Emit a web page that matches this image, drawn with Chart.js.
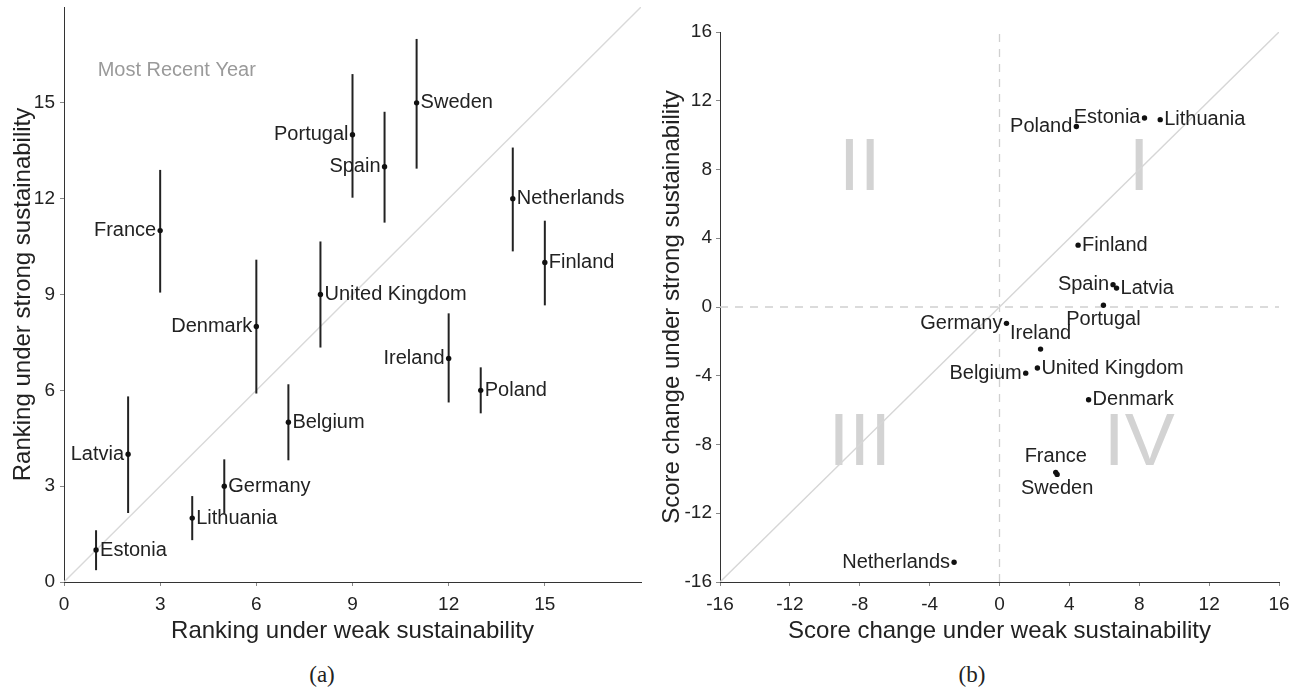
<!DOCTYPE html>
<html>
<head>
    <meta charset="utf-8" />
    <title>Ranking and score change under weak and strong sustainability</title>
    <script src="https://cdn.jsdelivr.net/npm/chart.js@4.4.1/dist/chart.umd.min.js"></script>

    <script>
        // (a) ranking, most recent year
        const countriesA = ['Estonia', 'Lithuania', 'Germany', 'Latvia', 'Belgium', 'Denmark', 'France', 'United Kingdom',
            'Ireland', 'Poland', 'Portugal', 'Spain', 'Sweden', 'Netherlands', 'Finland'];
        const weakRank = [1, 4, 5, 2, 7, 6, 3, 8, 12, 13, 9, 10, 11, 14, 15];
        const strongRank = [1, 2, 3, 4, 5, 8, 11, 9, 7, 6, 14, 13, 15, 12, 10];
        const strongLow = [0.37, 1.31, 2.15, 2.16, 3.81, 5.9, 9.06, 7.34, 5.62, 5.28, 12.03, 11.25, 12.94, 10.35, 8.66];
        const strongHigh = [1.62, 2.69, 3.84, 5.81, 6.19, 10.09, 12.9, 10.66, 8.41, 6.72, 15.9, 14.72, 17.0, 13.6, 11.31];
        const labelSideA = ['right', 'right', 'right', 'left', 'right', 'left', 'left', 'right',
            'left', 'right', 'left', 'left', 'right', 'right', 'right'];
        const ticksA = [0, 3, 6, 9, 12, 15];

        // (b) score change
        const countriesB = ['Poland', 'Estonia', 'Lithuania', 'Finland', 'Spain', 'Latvia', 'Portugal', 'Germany',
            'Ireland', 'United Kingdom', 'Belgium', 'Denmark', 'France', 'Sweden', 'Netherlands'];
        const weakChange = [4.4, 8.3, 9.2, 4.5, 6.5, 6.7, 5.95, 0.4, 2.35, 2.17, 1.5, 5.1, 3.22, 3.3, -2.6];
        const strongChange = [10.5, 11.0, 10.9, 3.6, 1.3, 1.1, 0.1, -0.95, -2.45, -3.55, -3.85, -5.4, -9.62, -9.74, -14.85];
        const labelSideB = ['left', 'left', 'right', 'right', 'left', 'right', 'below', 'left',
            'above', 'right', 'left', 'right', 'above', 'below', 'left'];
        const ticksB = [-16, -12, -8, -4, 0, 4, 8, 12, 16];
        const quadrants = ['I', 'II', 'III', 'IV'];
        const quadX = [8, -8, -8, 8];
        const quadY = [8, 8, -8, -8];

        const FONT = "'Liberation Sans', Arial, sans-serif";
        const INK = '#222';

        // nome dos paises ao lado dos pontos
        const countryLabels = {
            id: 'countryLabels',
            afterDatasetsDraw(chart, args, opts) {
                const meta = chart.getDatasetMeta(0);
                const ctx = chart.ctx;
                ctx.save();
                ctx.font = '20px ' + FONT;
                ctx.fillStyle = INK;
                ctx.textBaseline = 'middle';
                meta.data.forEach((pt, i) => {
                    let x = pt.x, y = pt.y;
                    const side = opts.sides[i];
                    if (side === 'left') { ctx.textAlign = 'right'; x -= 4; }
                    else if (side === 'right') { ctx.textAlign = 'left'; x += 4; }
                    else if (side === 'above') { ctx.textAlign = 'center'; y -= 16; }
                    else { ctx.textAlign = 'center'; y += 14; }
                    ctx.fillText(opts.names[i], x, y);
                });
                ctx.restore();
            }
        };

        // textos de fundo (quadrantes, subtitulo)
        const backText = {
            id: 'backText',
            beforeDatasetsDraw(chart, args, opts) {
                const ctx = chart.ctx;
                const sx = chart.scales.x, sy = chart.scales.y;
                ctx.save();
                ctx.textBaseline = 'middle';
                opts.items.forEach(it => {
                    ctx.font = it.size + 'px ' + FONT;
                    ctx.fillStyle = it.color;
                    ctx.textAlign = it.align;
                    ctx.fillText(it.text, sx.getPixelForValue(it.x), sy.getPixelForValue(it.y));
                });
                ctx.restore();
            }
        };

        function makeAxis(tickVals, min, max, title, size, tickPad, titlePad) {
            return {
                type: 'linear',
                min: min,
                max: max,
                afterBuildTicks: s => { s.ticks = tickVals.map(v => ({ value: v })); },
                afterFit: s => {
                    if (s.isHorizontal()) s.height = size; else s.width = size;
                    s.paddingTop = 0; s.paddingBottom = 0; s.paddingLeft = 0; s.paddingRight = 0;
                },
                grid: { drawOnChartArea: false, drawTicks: true, tickLength: 4, color: '#888' },
                border: { display: true, color: '#333', width: 1 },
                ticks: { font: { family: FONT, size: 19 }, color: INK, padding: tickPad, maxRotation: 0, autoSkip: false },
                title: { display: true, text: title, font: { family: FONT, size: 24 }, color: INK, padding: titlePad }
            };
        }

        document.addEventListener("DOMContentLoaded", function () {
            // grafico (a)
            const dsA = [{
                data: weakRank.map((w, i) => ({ x: w, y: strongRank[i] })),
                pointRadius: 2.7,
                pointBackgroundColor: '#111',
                pointBorderWidth: 0,
                order: 0
            }];
            weakRank.forEach((w, i) => {
                dsA.push({
                    data: [{ x: w, y: strongLow[i] }, { x: w, y: strongHigh[i] }],
                    showLine: true, pointRadius: 0, borderColor: '#222', borderWidth: 2, order: 2
                });
            });
            dsA.push({
                data: [{ x: 0, y: 0 }, { x: 18, y: 18 }],
                showLine: true, pointRadius: 0, borderColor: '#d9d9d9', borderWidth: 1.4, order: 5
            });

            new Chart(document.getElementById('chtA'), {
                type: 'scatter',
                data: { datasets: dsA },
                options: {
                    responsive: true,
                    maintainAspectRatio: false,
                    animation: false,
                    layout: { padding: { left: 0, top: 7, right: 10, bottom: 0 } },
                    plugins: {
                        legend: { display: false },
                        tooltip: { enabled: false },
                        countryLabels: { names: countriesA, sides: labelSideA },
                        backText: { items: [{ text: 'Most Recent Year', x: 1.05, y: 16, size: 20, color: '#9a9a9a', align: 'left' }] }
                    },
                    scales: {
                        x: makeAxis(ticksA, 0, 18, 'Ranking under weak sustainability', 64, 7, { top: 0, bottom: 0 }),
                        y: makeAxis(ticksA, 0, 18, 'Ranking under strong sustainability', 64, 5, { top: 9, bottom: 0 })
                    }
                },
                plugins: [countryLabels, backText]
            });

            // grafico (b)
            const dsB = [{
                data: weakChange.map((w, i) => ({ x: w, y: strongChange[i] })),
                pointRadius: 2.7,
                pointBackgroundColor: '#111',
                pointBorderWidth: 0,
                order: 0
            }, {
                data: [{ x: -16, y: -16 }, { x: 16, y: 16 }],
                showLine: true, pointRadius: 0, borderColor: '#d6d6d6', borderWidth: 1.4, order: 5
            }, {
                data: [{ x: 0, y: -16 }, { x: 0, y: 16 }],
                showLine: true, pointRadius: 0, borderColor: '#d0d0d0', borderWidth: 1.3, borderDash: [8, 7], order: 6
            }, {
                data: [{ x: -16, y: 0 }, { x: 16, y: 0 }],
                showLine: true, pointRadius: 0, borderColor: '#d0d0d0', borderWidth: 1.3, borderDash: [8, 7], order: 6
            }];

            new Chart(document.getElementById('chtB'), {
                type: 'scatter',
                data: { datasets: dsB },
                options: {
                    responsive: true,
                    maintainAspectRatio: false,
                    animation: false,
                    layout: { padding: { left: 0, top: 32, right: 23, bottom: 0 } },
                    plugins: {
                        legend: { display: false },
                        tooltip: { enabled: false },
                        countryLabels: { names: countriesB, sides: labelSideB },
                        backText: {
                            items: quadrants.map((q, i) => ({ text: q, x: quadX[i], y: quadY[i], size: 75, color: '#d3d3d3', align: 'center' }))
                        }
                    },
                    scales: {
                        x: makeAxis(ticksB, -16, 16, 'Score change under weak sustainability', 64, 7, { top: 0, bottom: 0 }),
                        y: makeAxis(ticksB, -16, 16, 'Score change under strong sustainability', 69, 4, { top: 7, bottom: 0 })
                    }
                },
                plugins: [countryLabels, backText]
            });
        });
    </script>
    <style>
        body {
            margin: 0;
            background: #fff;
            width: 1302px;
            height: 690px;
            overflow: hidden;
            position: relative;
        }
        .pane {
            position: absolute;
            top: 0;
            width: 651px;
            height: 646px;
        }
        .cap {
            position: absolute;
            top: 661px;
            width: 60px;
            text-align: center;
            font-family: 'Liberation Serif', 'DejaVu Serif', serif;
            font-size: 23px;
            line-height: 28px;
            color: #222;
        }
    </style>
</head>
<body>
    <div class="pane" style="left:0"><canvas id="chtA"></canvas></div>
    <div class="pane" style="left:651px"><canvas id="chtB"></canvas></div>
    <div class="cap" style="left:292px">(a)</div>
    <div class="cap" style="left:942px">(b)</div>
</body>
</html>
